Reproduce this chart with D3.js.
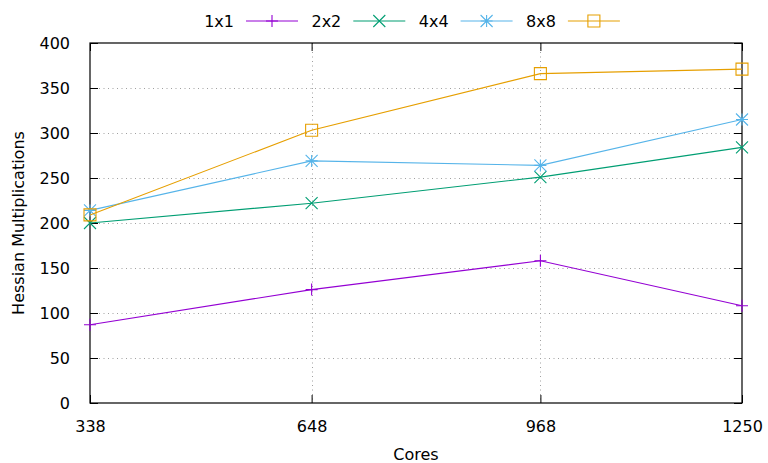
<!DOCTYPE html>
<html>
<head>
<meta charset="utf-8">
<script src="https://cdn.jsdelivr.net/npm/d3@7"></script>
<style>
  body { margin: 0; background: #fff; }
  text { font-family: "DejaVu Sans", sans-serif; font-size: 16px; fill: #000; }
</style>
</head>
<body>
<div id="chart"></div>
<script>
// data
var cores = [338, 648, 968, 1250];
var series_names = ["1x1", "2x2", "4x4", "8x8"];
var vals_1x1 = [87, 126, 158, 108];
var vals_2x2 = [200, 222, 251, 284];
var vals_4x4 = [214, 269, 264, 315];
var vals_8x8 = [209, 303, 366, 371];
var y_ticks = [0, 50, 100, 150, 200, 250, 300, 350, 400];
var colors = ["#9400d3", "#009e73", "#56b4e9", "#e69f00"];
var symbols = ["plus", "cross", "star", "square"];

var all_vals = [vals_1x1, vals_2x2, vals_4x4, vals_8x8];

var margin = {top: 43, right: 26, bottom: 60, left: 90},
    W = 768, H = 463,
    width = W - margin.left - margin.right,
    height = H - margin.top - margin.bottom;

var x = d3.scaleLinear().domain([338, 1250]).range([0, width]);
var y = d3.scaleLinear().domain([0, 400]).range([height, 0]);

var svg = d3.select("#chart").append("svg")
  .attr("width", W)
  .attr("height", H);

var g = svg.append("g")
  .attr("transform", "translate(" + margin.left + "," + margin.top + ")");

// grid (dotted)
g.append("g")
  .selectAll("line")
  .data(y_ticks.slice(1, -1))
  .enter().append("line")
  .attr("x1", 0).attr("x2", width)
  .attr("y1", function(d) { return y(d) + 0.5; })
  .attr("y2", function(d) { return y(d) + 0.5; })
  .attr("stroke", "#a0a0a0")
  .attr("stroke-width", 1)
  .attr("stroke-dasharray", "1,3.5");

g.append("g")
  .selectAll("line")
  .data(cores.slice(1, -1))
  .enter().append("line")
  .attr("y1", 0).attr("y2", height)
  .attr("x1", function(d) { return Math.round(x(d)) + 0.5; })
  .attr("x2", function(d) { return Math.round(x(d)) + 0.5; })
  .attr("stroke", "#a0a0a0")
  .attr("stroke-width", 1)
  .attr("stroke-dasharray", "1,3.5");

// axes with inward ticks, mirrored
function style_axis(sel) {
  sel.select(".domain").remove();
  sel.selectAll(".tick line").attr("stroke", "#000");
  sel.selectAll(".tick text").style("font-size", "16px").attr("fill", "#000")
    .style("font-family", "DejaVu Sans, sans-serif");
}

g.append("g")
  .call(d3.axisLeft(y).tickValues(y_ticks).tickSizeInner(-8).tickSizeOuter(0).tickPadding(20))
  .call(style_axis);

g.append("g")
  .attr("transform", "translate(" + width + ",0)")
  .call(d3.axisRight(y).tickValues(y_ticks).tickSizeInner(-8).tickSizeOuter(0).tickFormat(""))
  .call(style_axis);

g.append("g")
  .attr("transform", "translate(0," + height + ")")
  .call(d3.axisBottom(x).tickValues(cores).tickFormat(d3.format("d")).tickSizeInner(-8).tickSizeOuter(0).tickPadding(18))
  .call(style_axis);

g.append("g")
  .call(d3.axisTop(x).tickValues(cores).tickSizeInner(-8).tickSizeOuter(0).tickFormat(""))
  .call(style_axis);

// border box
g.append("rect")
  .attr("x", 0).attr("y", 0)
  .attr("width", width).attr("height", height)
  .attr("fill", "none")
  .attr("stroke", "#000")
  .attr("stroke-width", 1.2);

// marker paths
function marker_path(type, s) {
  if (type == "plus") return "M" + (-s) + ",0H" + s + "M0," + (-s) + "V" + s;
  if (type == "cross") return "M" + (-s) + "," + (-s) + "L" + s + "," + s + "M" + (-s) + "," + s + "L" + s + "," + (-s);
  if (type == "star") return "M" + (-s) + ",0H" + s + "M0," + (-s) + "V" + s +
    "M" + (-s) + "," + (-s) + "L" + s + "," + s + "M" + (-s) + "," + s + "L" + s + "," + (-s);
  return "M" + (-s) + "," + (-s) + "H" + s + "V" + s + "H" + (-s) + "Z";
}

var line = d3.line()
  .x(function(d, i) { return x(cores[i]); })
  .y(function(d) { return y(d); });

all_vals.forEach(function(vals, k) {
  g.append("path")
    .datum(vals)
    .attr("d", line)
    .attr("fill", "none")
    .attr("stroke", colors[k])
    .attr("stroke-width", 1.1);

  g.selectAll(".pt" + k)
    .data(vals)
    .enter().append("path")
    .attr("class", "pt" + k)
    .attr("transform", function(d, i) { return "translate(" + x(cores[i]) + "," + y(d) + ")"; })
    .attr("d", marker_path(symbols[k], 6))
    .attr("fill", "none")
    .attr("stroke", colors[k])
    .attr("stroke-width", 1.1);
});

// legend on top
var leg = svg.append("g").attr("transform", "translate(0,21)");
series_names.forEach(function(name, k) {
  var lx = 246 + k * 107.3;
  leg.append("text")
    .attr("x", lx - 12)
    .attr("y", 0)
    .attr("dy", "0.35em")
    .attr("text-anchor", "end")
    .text(name);
  leg.append("line")
    .attr("x1", lx).attr("x2", lx + 52)
    .attr("y1", 0).attr("y2", 0)
    .attr("stroke", colors[k])
    .attr("stroke-width", 1.1);
  leg.append("path")
    .attr("transform", "translate(" + (lx + 26) + ",0)")
    .attr("d", marker_path(symbols[k], 6))
    .attr("fill", "none")
    .attr("stroke", colors[k])
    .attr("stroke-width", 1.1);
});

// axis titles
svg.append("text")
  .attr("x", margin.left + width / 2)
  .attr("y", 460)
  .attr("text-anchor", "middle")
  .text("Cores");

svg.append("text")
  .attr("transform", "translate(24," + (margin.top + height / 2) + ") rotate(-90)")
  .attr("text-anchor", "middle")
  .text("Hessian Multiplications");
</script>
</body>
</html>
